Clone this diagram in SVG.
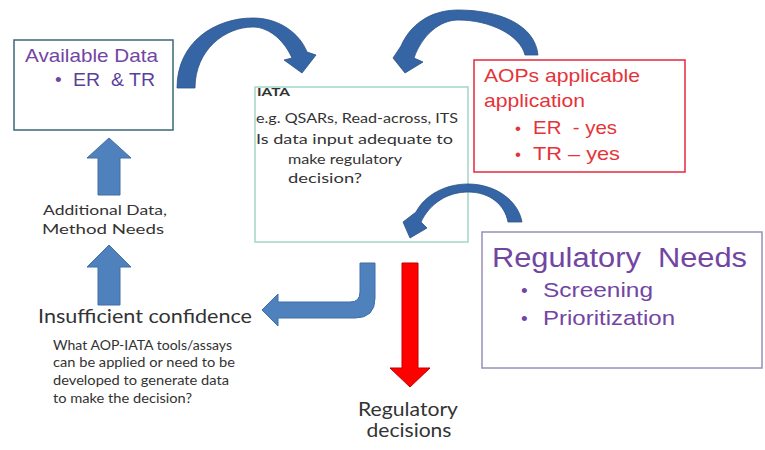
<svg xmlns="http://www.w3.org/2000/svg" width="765" height="450" viewBox="0 0 765 450">
<defs>
<style>
.box{fill:none;stroke-width:1.5}
.arial{font-family:"Liberation Sans",Arial,sans-serif;white-space:pre}
.cal{font-family:Lato,"Open Sans",sans-serif;fill:#333}
.arc{fill:#3565a5;stroke:#2c5286;stroke-width:0.8}
.blue{fill:#4f81bd;stroke:#3f6fa8;stroke-width:1}
.purple{fill:#7345a3}
.red{fill:#e5333a}
</style>
</defs>
<rect width="765" height="450" fill="#ffffff"/>

<g id="available-data">
<rect class="box" x="14" y="40" width="159" height="90" stroke="#3b6878"/>
<text class="arial purple" x="25" y="62" font-size="19" textLength="133" lengthAdjust="spacingAndGlyphs">Available Data</text>
<text class="arial purple" x="55" y="86" font-size="19">•</text>
<text class="arial" x="73" y="86" font-size="19" fill="#5b3f9c" textLength="82" lengthAdjust="spacingAndGlyphs" xml:space="preserve">ER  &amp; TR</text>
</g>

<g id="iata">
<rect class="box" x="255" y="87" width="213" height="155" stroke="#a3d6c8" stroke-width="1.2"/>
<text class="cal" x="257" y="96" font-size="12" font-weight="bold" textLength="33" lengthAdjust="spacingAndGlyphs">IATA</text>
<text class="cal" x="256" y="123" font-size="14" textLength="202" lengthAdjust="spacingAndGlyphs">e.g. QSARs, Read-across, ITS</text>
<text class="cal" x="256" y="144" font-size="14" textLength="197" lengthAdjust="spacingAndGlyphs">Is data input adequate to</text>
<text class="cal" x="288" y="164" font-size="14" textLength="114" lengthAdjust="spacingAndGlyphs">make regulatory</text>
<text class="cal" x="288" y="183" font-size="14" textLength="74" lengthAdjust="spacingAndGlyphs">decision?</text>
</g>

<g id="aops">
<rect class="box" x="474" y="60" width="211" height="112" stroke="#e32a3c"/>
<text class="arial red" x="484" y="82" font-size="19" textLength="156" lengthAdjust="spacingAndGlyphs">AOPs applicable</text>
<text class="arial red" x="484" y="107" font-size="19" textLength="101" lengthAdjust="spacingAndGlyphs">application</text>
<text class="arial red" x="515" y="134" font-size="17">•</text>
<text class="arial red" x="533" y="134" font-size="19" textLength="84" lengthAdjust="spacingAndGlyphs" xml:space="preserve">ER  - yes</text>
<text class="arial red" x="515" y="160" font-size="17">•</text>
<text class="arial red" x="533" y="160" font-size="19" textLength="87" lengthAdjust="spacingAndGlyphs">TR – yes</text>
</g>

<g id="regulatory-needs">
<rect class="box" x="482" y="232" width="280" height="136" stroke="#9a8fb8"/>
<text class="arial purple" x="492" y="267" font-size="27" textLength="255" lengthAdjust="spacingAndGlyphs" xml:space="preserve">Regulatory  Needs</text>
<text class="arial purple" x="521" y="297" font-size="19">•</text>
<text class="arial purple" x="543" y="297" font-size="21" textLength="110" lengthAdjust="spacingAndGlyphs">Screening</text>
<text class="arial purple" x="521" y="325" font-size="19">•</text>
<text class="arial purple" x="543" y="325" font-size="21" textLength="132" lengthAdjust="spacingAndGlyphs">Prioritization</text>
</g>

<g id="additional-data">
<text class="cal" x="105" y="215" font-size="14" text-anchor="middle" textLength="124" lengthAdjust="spacingAndGlyphs">Additional Data,</text>
<text class="cal" x="103" y="234" font-size="14" text-anchor="middle" textLength="122" lengthAdjust="spacingAndGlyphs">Method Needs</text>
</g>

<g id="insufficient-confidence">
<text class="cal" x="38" y="323" font-size="19" fill="#222" textLength="214" lengthAdjust="spacingAndGlyphs">Insufficient confidence</text>
<text class="cal" x="53" y="350" font-size="12.5" textLength="179" lengthAdjust="spacingAndGlyphs">What AOP-IATA tools/assays</text>
<text class="cal" x="53" y="367" font-size="12.5" textLength="182" lengthAdjust="spacingAndGlyphs">can be applied or need to be</text>
<text class="cal" x="53" y="385" font-size="12.5" textLength="176" lengthAdjust="spacingAndGlyphs">developed to generate data</text>
<text class="cal" x="53" y="403" font-size="12.5" textLength="139" lengthAdjust="spacingAndGlyphs">to make the decision?</text>
</g>

<g id="regulatory-decisions">
<text class="cal" x="408" y="416" font-size="19" fill="#222" text-anchor="middle" textLength="100" lengthAdjust="spacingAndGlyphs">Regulatory</text>
<text class="cal" x="409" y="437" font-size="19" fill="#222" text-anchor="middle" textLength="85" lengthAdjust="spacingAndGlyphs">decisions</text>
</g>

<g id="connectors">
<path class="arc" d="M177,88 C177,42 215,18 253,18 C280,18 300,34 307,52 L316,55 L302,73 L284,60 L292,58 C285,42 270,27 253,27 C225,27 195,50 195,88 Z"/>
<path class="arc" d="M538,55 C535,25 500,10 458,10 C430,10 410,25 401,46 L393,58 L405,73 L423,62 L414,58 C422,35 440,20 458,20 C490,20 520,35 525,55 Z"/>
<path class="arc" d="M522,222 C518,200 495,184 468,184 C445,184 425,195 416,212 L403,222 L410,238 L427,228 L421,222 C430,203 448,192 468,192 C490,192 505,205 508,222 Z"/>
<path class="blue" d="M109,138 L131,158 L120,158 L120,195 L98,195 L98,158 L87,158 Z"/>
<path class="blue" d="M109,245 L131,267 L120,267 L120,305 L98,305 L98,267 L87,267 Z"/>
<path class="blue" d="M375,263 L375,298 Q375,318 355,318 L278,318 L278,326 L262,310 L278,294 L278,302 L350,302 Q360,302 360,292 L360,263 Z"/>
<path d="M402,263 L418,263 L418,368 L430,368 L410,387 L390,368 L402,368 Z" fill="#ff0000" stroke="#c00000" stroke-width="1"/>
</g>
</svg>
